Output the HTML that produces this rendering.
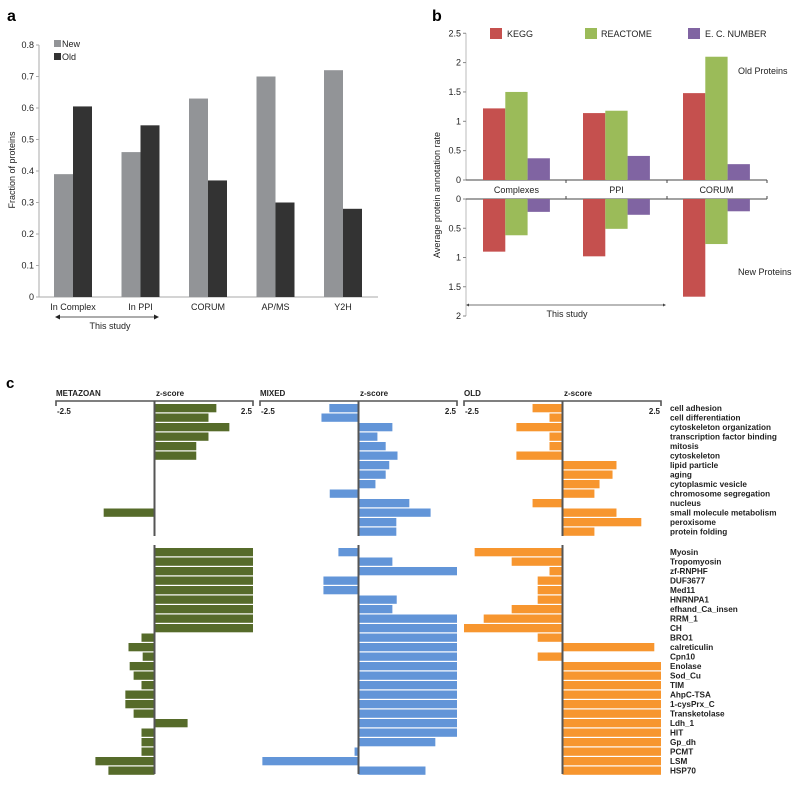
<!DOCTYPE html>
<html><head><meta charset="utf-8"><style>
html,body{margin:0;padding:0;background:#fff;width:800px;height:786px;overflow:hidden}
svg{display:block;font-family:"Liberation Sans",sans-serif}
</style></head><body>
<svg id="fig" width="800" height="786" viewBox="0 0 800 786">
<text x="7" y="21" font-size="16" font-weight="bold">a</text>
<text x="432" y="21" font-size="16" font-weight="bold">b</text>
<text x="6" y="388" font-size="15" font-weight="bold">c</text>
</svg>
<script>
// ---------- Panel A data ----------
const aCats = ["In Complex","In PPI","CORUM","AP/MS","Y2H"];
const aNew = [0.39,0.46,0.63,0.70,0.72];
const aOld = [0.605,0.545,0.37,0.30,0.28];
const aTicks = [0,0.1,0.2,0.3,0.4,0.5,0.6,0.7,0.8];
// ---------- Panel B data ----------
const bCats = ["Complexes","PPI","CORUM"];
const bSeries = ["KEGG","REACTOME","E. C. NUMBER"];
const bOldKegg = [1.22,1.14,1.48];
const bOldReact = [1.5,1.18,2.1];
const bOldEc = [0.37,0.41,0.27];
const bNewKegg = [0.9,0.98,1.67];
const bNewReact = [0.62,0.51,0.77];
const bNewEc = [0.22,0.27,0.21];
const bUpTicks = [0,0.5,1,1.5,2,2.5];
const bDownTicks = [0,0.5,1,1.5,2];
// ---------- Panel C data ----------
const cTopTerms = ["cell adhesion","cell differentiation","cytoskeleton organization","transcription factor binding","mitosis","cytoskeleton","lipid particle","aging","cytoplasmic vesicle","chromosome segregation","nucleus","small molecule metabolism","peroxisome","protein folding"];
const cTopMeta = [1.57,1.37,1.9,1.37,1.06,1.06,0,0,0,0,0,-1.29,0,0];
const cTopMixed = [-0.74,-0.94,0.86,0.48,0.69,0.99,0.78,0.69,0.43,-0.73,1.29,1.83,0.96,0.96];
const cTopOld = [-0.76,-0.33,-1.17,-0.33,-0.33,-1.17,1.37,1.27,0.94,0.81,-0.76,1.37,2.0,0.81];
const cBotTerms = ["Myosin","Tropomyosin","zf-RNPHF","DUF3677","Med11","HNRNPA1","efhand_Ca_insen","RRM_1","CH","BRO1","calreticulin","Cpn10","Enolase","Sod_Cu","TIM","AhpC-TSA","1-cysPrx_C","Transketolase","Ldh_1","HIT","Gp_dh","PCMT","LSM","HSP70"];
const cBotMeta = [2.5,2.5,2.5,2.5,2.5,2.5,2.5,2.5,2.5,-0.33,-0.66,-0.3,-0.63,-0.53,-0.33,-0.74,-0.74,-0.53,0.84,-0.33,-0.33,-0.33,-1.5,-1.17];
const cBotMixed = [-0.51,0.86,2.5,-0.89,-0.89,0.97,0.86,2.5,2.5,2.5,2.5,2.5,2.5,2.5,2.5,2.5,2.5,2.5,2.5,2.5,1.95,-0.1,-2.44,1.7];
const cBotOld = [-2.23,-1.29,-0.33,-0.63,-0.63,-0.63,-1.29,-2.0,-2.5,-0.63,2.33,-0.63,2.5,2.5,2.5,2.5,2.5,2.5,2.5,2.5,2.5,2.5,2.5,2.5];
const cPanels = ["METAZOAN","MIXED","OLD"];

const svg = document.getElementById('fig');
const NS = "http://www.w3.org/2000/svg";
function mk(tag, attrs, parent){ const e=document.createElementNS(NS,tag); for(const k in attrs) e.setAttribute(k,attrs[k]); (parent||svg).appendChild(e); return e; }
function txt(x,y,s,size,attrs){ const t=mk('text',Object.assign({x:x,y:y,'font-size':size,fill:'#222'},attrs||{})); t.textContent=s; return t; }

// ===== Panel A =====
const aY = v => 297 - v*315;
const aX0 = 54, aGroup = 67.5, aBw = 19;
mk('line',{x1:39,y1:aY(0.8),x2:39,y2:297,stroke:'#aaa','stroke-width':1});
mk('line',{x1:39,y1:297,x2:378,y2:297,stroke:'#aaa','stroke-width':1});
aTicks.forEach(t=>{
  mk('line',{x1:36,y1:aY(t),x2:39,y2:aY(t),stroke:'#aaa'});
  const l=txt(34,aY(t)+3,String(t),9,{'text-anchor':'end'});
   
});
aCats.forEach((c,i)=>{
  const x=aX0+i*aGroup;
  const r1=mk('rect',{x:x,y:aY(aNew[i]),width:aBw,height:aY(0)-aY(aNew[i]),fill:'#929497'});
   
  const r2=mk('rect',{x:x+aBw,y:aY(aOld[i]),width:aBw,height:aY(0)-aY(aOld[i]),fill:'#333333'});
   
  const l=txt(x+aBw,310,c,9,{'text-anchor':'middle'});
   
});
let e=mk('rect',{x:54,y:40,width:7,height:7,fill:'#929497'});  
e=txt(62,47,'New',9);  
e=mk('rect',{x:54,y:53,width:7,height:7,fill:'#333'});  
e=txt(62,60,'Old',9);  
e=txt(15,170,'Fraction of proteins',9,{'text-anchor':'middle',transform:'rotate(-90 15 170)'});  
mk('line',{x1:58,y1:317,x2:156,y2:317,stroke:'#222','stroke-width':0.8});
mk('path',{d:'M55,317 l5,-2.5 v5 z M159,317 l-5,-2.5 v5 z',fill:'#222'});
e=txt(110,329,'This study',9,{'text-anchor':'middle'});  

// ===== Panel B =====
const bYu = v => 180 - v*58.7;
const bYd = v => 199 + v*58.5;
const bX0 = 483, bGroup = 100, bBw = 22.3;
const bColors = ['#c5504e','#9bbb59','#8064a2'];
mk('line',{x1:466,y1:bYu(2.5),x2:466,y2:180,stroke:'#bbb'});
mk('line',{x1:466,y1:199,x2:466,y2:bYd(2),stroke:'#bbb'});
mk('line',{x1:466,y1:180,x2:767,y2:180,stroke:'#444'});
mk('line',{x1:466,y1:199,x2:767,y2:199,stroke:'#444'});
[566,667,767].forEach(x=>{mk('line',{x1:x,y1:180,x2:x,y2:183,stroke:'#444'});mk('line',{x1:x,y1:196,x2:x,y2:199,stroke:'#444'});});
bUpTicks.forEach(t=>{ mk('line',{x1:463,y1:bYu(t),x2:466,y2:bYu(t),stroke:'#888'});
  const l=txt(461,bYu(t)+3,String(t),9,{'text-anchor':'end'});  });
bDownTicks.forEach(t=>{ mk('line',{x1:463,y1:bYd(t),x2:466,y2:bYd(t),stroke:'#888'});
  const l=txt(461,bYd(t)+3,String(t),9,{'text-anchor':'end'});  });
const bUp=[bOldKegg,bOldReact,bOldEc], bDown=[bNewKegg,bNewReact,bNewEc];
bCats.forEach((c,i)=>{
  for(let s=0;s<3;s++){
    const x=bX0+i*bGroup+s*bBw;
    const u=mk('rect',{x:x,y:bYu(bUp[s][i]),width:bBw,height:180-bYu(bUp[s][i]),fill:bColors[s]});
     
    const d=mk('rect',{x:x,y:199,width:bBw,height:bYd(bDown[s][i])-199,fill:bColors[s]});
     
  }
  const l=txt(bX0+i*bGroup+bBw*1.5,193,c,9,{'text-anchor':'middle'});  
});
const bLegX=[490,585,688], bLegT=[507,601,705];
bSeries.forEach((s,i)=>{
  const r=mk('rect',{x:bLegX[i],y:28,width:12,height:11,fill:bColors[i]});  
  const l=txt(bLegT[i],37,s,9);  
});
e=txt(738,74,'Old Proteins',9);  
e=txt(738,275,'New Proteins',9);  
e=txt(440,195,'Average protein annotation rate',9,{'text-anchor':'middle',transform:'rotate(-90 440 195)'});  
mk('line',{x1:467,y1:305,x2:665,y2:305,stroke:'#444','stroke-width':0.7});
mk('path',{d:'M466,305 l3,-1.5 v3 z M666,305 l-3,-1.5 v3 z',fill:'#444'});
e=txt(567,317,'This study',9,{'text-anchor':'middle'});  

// ===== Panel C =====
const cLeft=[56,260,464], cWidth=197;
const cColors=['#566b2a','#6295d8','#f7962f'];
const cScale = (p,v) => cLeft[p] + cWidth/2 + Math.max(-2.5,Math.min(2.5,v))*(cWidth/5);
const rowH=9.5, topY0=404, botY0=548;
const topData=[cTopMeta,cTopMixed,cTopOld], botData=[cBotMeta,cBotMixed,cBotOld];
cPanels.forEach((name,p)=>{
  const L=cLeft[p], R=L+cWidth, C=cScale(p,0);
  mk('path',{d:`M${L},406 V401 H${R} V406`,stroke:'#555','stroke-width':1.6,fill:'none'});
  let t=txt(L,396,name,8,{'font-weight':'bold'});  
  t=txt(L+100,396,'z-score',8,{'font-weight':'bold'});  
  t=txt(L+1,414,'-2.5',8,{'font-weight':'bold'});  
  t=txt(R-1,414,'2.5',8,{'font-weight':'bold','text-anchor':'end'});  
  topData[p].forEach((v,i)=>{
    if(v===0) return;
    const x1=Math.min(C,cScale(p,v)), x2=Math.max(C,cScale(p,v));
    const r=mk('rect',{x:x1,y:topY0+i*rowH,width:x2-x1,height:rowH-1.2,fill:cColors[p]});
     
  });
  botData[p].forEach((v,i)=>{
    if(v===0) return;
    const x1=Math.min(C,cScale(p,v)), x2=Math.max(C,cScale(p,v));
    const r=mk('rect',{x:x1,y:botY0+i*rowH,width:x2-x1,height:rowH-1.2,fill:cColors[p]});
     
  });
  mk('line',{x1:C,y1:401,x2:C,y2:536,stroke:'#555','stroke-width':2});
  mk('line',{x1:C,y1:545,x2:C,y2:774,stroke:'#555','stroke-width':2});
});
cTopTerms.forEach((s,i)=>{ const l=txt(670,topY0+i*rowH+7,s,8.2,{'font-weight':'bold'});  });
cBotTerms.forEach((s,i)=>{ const l=txt(670,botY0+i*rowH+7,s,8.2,{'font-weight':'bold'});  });
</script>
</body></html>
